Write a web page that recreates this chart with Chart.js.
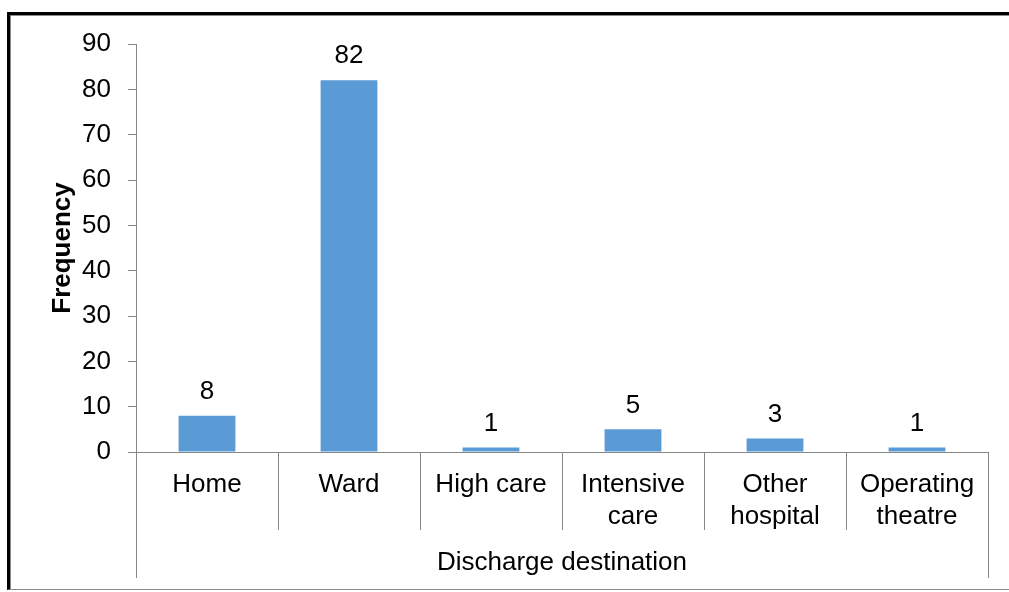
<!DOCTYPE html>
<html>
<head>
<meta charset="utf-8">
<script src="https://cdn.jsdelivr.net/npm/chart.js@4/dist/chart.umd.min.js"></script>
<style>
    html, body { margin: 0; padding: 0; background: #fff; }
    #wrap { position: relative; width: 1009px; height: 592px; overflow: hidden; }
    #chart { position: absolute; left: 0; top: 0; }
    #frame {
        position: absolute; left: 7px; top: 12px; width: 1100px; height: 574px;
        border-top: 3px solid #000; border-left: 3px solid #000;
        border-bottom: 1px solid #8a8a8a; pointer-events: none;
    }
    #frame::before {
        content: ''; position: absolute; left: 0; top: 0; right: 0; bottom: 0;
        border-top: 1px solid #8a8a8a; border-left: 1px solid #8a8a8a;
    }
</style>
</head>
<body>
<div id="wrap">
    <canvas id="chart" width="1009" height="592"></canvas>
    <div id="frame"></div>
</div>
<script>
"use strict";

const categories = ['Home', 'Ward', 'High care', ['Intensive', 'care'], ['Other', 'hospital'], ['Operating', 'theatre']];
const frequency = [8, 82, 1, 5, 3, 1];
const yTicks = [0, 10, 20, 30, 40, 50, 60, 70, 80, 90];

const axisGray = '#868686';
const fontFamily = '"Liberation Sans", Arial, sans-serif';

// value labels above bars
const barLabels = {
    id: 'barLabels',
    afterDatasetsDraw(chart) {
        const ctx = chart.ctx;
        const meta = chart.getDatasetMeta(0);
        ctx.save();
        ctx.font = `26px ${fontFamily}`;
        ctx.fillStyle = '#000';
        ctx.textAlign = 'center';
        ctx.textBaseline = 'middle';
        meta.data.forEach((bar, i) => {
            ctx.fillText(String(frequency[i]), bar.x, bar.y - 24);
        });
        ctx.restore();
    }
};

// long outer separators of the second axis level
const outerLines = {
    id: 'outerLines',
    afterDraw(chart) {
        const x = chart.scales.x;
        const ctx = chart.ctx;
        ctx.save();
        ctx.strokeStyle = axisGray;
        ctx.lineWidth = 1;
        ctx.beginPath();
        [x.left, x.right].forEach(px => {
            const p = Math.round(px) + 0.5;
            ctx.moveTo(p, x.top);
            ctx.lineTo(p, x.top + 126);
        });
        ctx.stroke();
        ctx.restore();
    }
};

const ctx = document.getElementById('chart').getContext('2d');
new Chart(ctx, {
    type: 'bar',
    data: {
        labels: categories,
        datasets: [{
            data: frequency,
            backgroundColor: '#5B9BD5',
            borderWidth: 0,
            categoryPercentage: 1,
            barPercentage: 0.4
        }]
    },
    options: {
        responsive: false,
        animation: false,
        layout: { padding: { left: 0, top: 44, right: 21, bottom: 0 } },
        plugins: {
            legend: { display: false },
            tooltip: { enabled: false }
        },
        scales: {
            x: {
                offset: true,
                afterFit: (scale) => { scale.height = 140; },
                grid: {
                    offset: true,
                    drawOnChartArea: false,
                    tickLength: 78,
                    color: axisGray
                },
                border: { color: axisGray },
                ticks: {
                    color: '#000',
                    padding: -61,
                    maxRotation: 0,
                    autoSkip: false,
                    font: { family: fontFamily, size: 26, lineHeight: 1.23 }
                },
                title: {
                    display: true,
                    text: 'Discharge destination',
                    color: '#000',
                    padding: { top: 0, bottom: 14 },
                    font: { family: fontFamily, size: 26, lineHeight: 1.2 }
                }
            },
            y: {
                min: yTicks[0],
                max: yTicks[yTicks.length - 1],
                afterFit: (scale) => { scale.width = 136; },
                afterBuildTicks: (scale) => { scale.ticks = yTicks.map(v => ({ value: v })); },
                grid: {
                    drawOnChartArea: false,
                    tickLength: 8,
                    color: axisGray
                },
                border: { color: axisGray },
                ticks: {
                    color: '#000',
                    padding: 17,
                    font: { family: fontFamily, size: 26 }
                },
                title: {
                    display: true,
                    text: 'Frequency',
                    color: '#000',
                    padding: { top: 47, bottom: 0 },
                    font: { family: fontFamily, size: 26, weight: 'bold', lineHeight: 1.2 }
                }
            }
        }
    },
    plugins: [barLabels, outerLines]
});
</script>
</body>
</html>
